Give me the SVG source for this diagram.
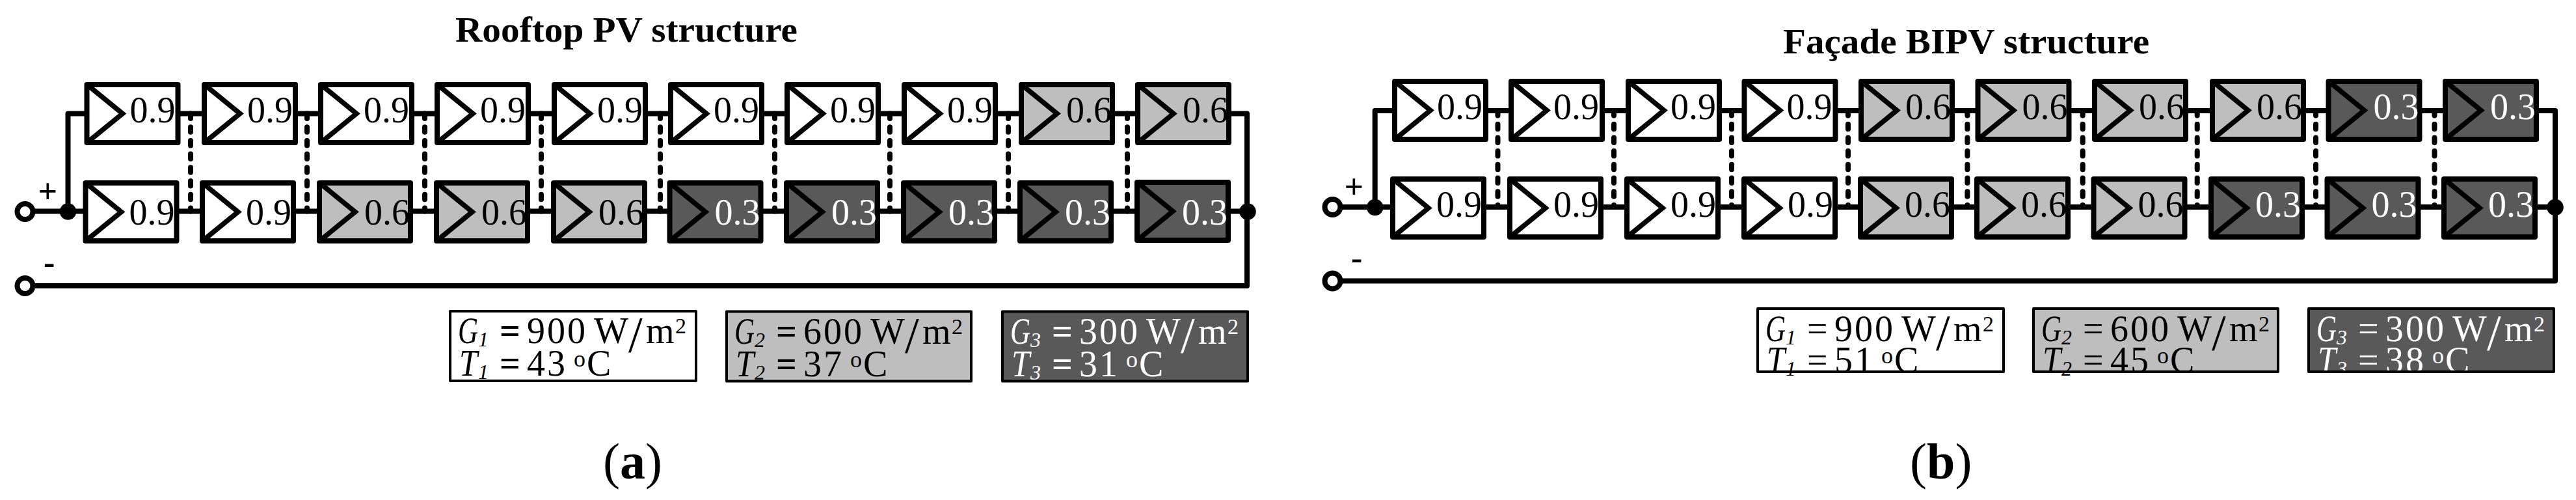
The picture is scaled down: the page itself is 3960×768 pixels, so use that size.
<svg xmlns="http://www.w3.org/2000/svg" xmlns:xlink="http://www.w3.org/1999/xlink" width="3960" height="768" viewBox="0 0 3960 768">
<style>
text{font-family:"Liberation Serif","Times New Roman",serif;font-size:56px;fill:#000}
.w{fill:#fff}.l{fill:#bebebe}.d{fill:#595959}
.bx{stroke:#000;stroke-width:8;stroke-linejoin:round}
.tri{fill:none;stroke:#000;stroke-width:7.5;stroke-linejoin:miter}
.wire{fill:none;stroke:#000;stroke-width:8;stroke-linejoin:round}
.dash{fill:none;stroke:#000;stroke-width:8;stroke-linecap:round;stroke-dasharray:7.5 13.2}
.dot{fill:#000}
.term{fill:#fff;stroke:#000;stroke-width:8}
text.wt,.wt tspan{fill:#fff}
.title{font-weight:bold;font-size:54px}
.cap{font-size:78px}
.pm{font-size:52px;font-weight:bold}
.i{font-style:italic}
.s{font-style:italic;font-size:32px}
.n{letter-spacing:3px}
.sl{font-size:78px}
.sp{font-size:34px}
.o{font-size:36px}
.e{font-weight:bold}
.lgs{fill:none;stroke:#000;stroke-width:4;stroke-linejoin:round}
</style>
<defs>
<path id="tri" class="tri" d="M8 7L59 48.5L8 90"/>
</defs>

<g id="connectors">
<path class="wire" d="M104.5 324.5V174.5H1917V439H50"/>
<path class="wire" d="M50 324.5H1918"/>
<path class="dash" d="M293 174.5V324.5M472 174.5V324.5M653 174.5V324.5M832 174.5V324.5M1015 174.5V324.5M1191 174.5V324.5M1368 174.5V324.5M1550 174.5V324.5M1733 174.5V324.5"/>
<path class="wire" d="M2113.7 318V170H3928V431.5H2060"/>
<path class="wire" d="M2060 318H3928"/>
<path class="dash" d="M2302.5 170V318M2481 170V318M2662 170V318M2841 170V318M3024.4 170V318M3201.7 170V318M3377.7 170V318M3560 170V318M3742.5 170V318"/>
</g>

<g id="panel-a">
<text class="title" x="700" y="64" textLength="526" lengthAdjust="spacingAndGlyphs">Rooftop PV structure</text>
<g id="a-plus-terminal"><circle class="term" cx="38.5" cy="325" r="12"/><text class="pm" x="58.5" y="311">+</text></g>
<g id="a-minus-terminal"><circle class="term" cx="38.5" cy="439" r="12"/><text class="pm" x="67" y="420">-</text></g>
<circle id="a-left-junction" class="dot" cx="104.5" cy="325" r="12.8"/>
<circle id="a-right-junction" class="dot" cx="1918" cy="325" r="12.8"/>

<g id="a-t1" transform="translate(129.5,126)"><rect class="bx w" x="4" y="4" width="140" height="89"/><use href="#tri"/><text x="70" y="62">0.9</text></g>
<g id="a-t2" transform="translate(310,126)"><rect class="bx w" x="4" y="4" width="140" height="89"/><use href="#tri"/><text x="70" y="62">0.9</text></g>
<g id="a-t3" transform="translate(489,126)"><rect class="bx w" x="4" y="4" width="140" height="89"/><use href="#tri"/><text x="70" y="62">0.9</text></g>
<g id="a-t4" transform="translate(668,126)"><rect class="bx w" x="4" y="4" width="140" height="89"/><use href="#tri"/><text x="70" y="62">0.9</text></g>
<g id="a-t5" transform="translate(848,126)"><rect class="bx w" x="4" y="4" width="140" height="89"/><use href="#tri"/><text x="70" y="62">0.9</text></g>
<g id="a-t6" transform="translate(1027,126)"><rect class="bx w" x="4" y="4" width="140" height="89"/><use href="#tri"/><text x="70" y="62">0.9</text></g>
<g id="a-t7" transform="translate(1206,126)"><rect class="bx w" x="4" y="4" width="140" height="89"/><use href="#tri"/><text x="70" y="62">0.9</text></g>
<g id="a-t8" transform="translate(1386,126)"><rect class="bx w" x="4" y="4" width="140" height="89"/><use href="#tri"/><text x="70" y="62">0.9</text></g>
<g id="a-t9" transform="translate(1566,126)"><rect class="bx l" x="4" y="4" width="140" height="89"/><use href="#tri"/><text x="73" y="62">0.6</text></g>
<g id="a-t10" transform="translate(1745,126)"><rect class="bx l" x="4" y="4" width="140" height="89"/><use href="#tri"/><text x="73" y="62">0.6</text></g>

<g id="a-b1" transform="translate(127.5,277)"><rect class="bx w" x="4" y="4" width="140" height="89"/><use href="#tri"/><text x="71" y="68">0.9</text></g>
<g id="a-b2" transform="translate(307,277)"><rect class="bx w" x="4" y="4" width="140" height="89"/><use href="#tri"/><text x="71" y="68">0.9</text></g>
<g id="a-b3" transform="translate(487,277)"><rect class="bx l" x="4" y="4" width="140" height="89"/><use href="#tri"/><text x="73" y="68">0.6</text></g>
<g id="a-b4" transform="translate(667,277)"><rect class="bx l" x="4" y="4" width="140" height="89"/><use href="#tri"/><text x="73" y="68">0.6</text></g>
<g id="a-b5" transform="translate(847,277)"><rect class="bx l" x="4" y="4" width="140" height="89"/><use href="#tri"/><text x="73" y="68">0.6</text></g>
<g id="a-b6" transform="translate(1025.5,277)"><rect class="bx d" x="4" y="4" width="140" height="89"/><use href="#tri"/><text class="wt" x="73" y="68">0.3</text></g>
<g id="a-b7" transform="translate(1205,277)"><rect class="bx d" x="4" y="4" width="140" height="89"/><use href="#tri"/><text class="wt" x="73" y="68">0.3</text></g>
<g id="a-b8" transform="translate(1385,277)"><rect class="bx d" x="4" y="4" width="140" height="89"/><use href="#tri"/><text class="wt" x="73" y="68">0.3</text></g>
<g id="a-b9" transform="translate(1564,277)"><rect class="bx d" x="4" y="4" width="140" height="89"/><use href="#tri"/><text class="wt" x="73" y="68">0.3</text></g>
<g id="a-b10" transform="translate(1744,276)"><rect class="bx d" x="4" y="4" width="140" height="89"/><use href="#tri"/><text class="wt" x="73" y="69">0.3</text></g>

<g id="a-legend-1" transform="translate(690,476)"><rect class="w" x="2" y="2" width="378" height="107"/>
<text y="51"><tspan class="i" x="14" textLength="31" lengthAdjust="spacingAndGlyphs">G</tspan><tspan class="s" x="45" dy="5">1</tspan> <tspan class="e" x="78" dy="-5">=</tspan> <tspan class="n" x="120">900</tspan> <tspan x="223">W</tspan><tspan class="sl" x="276" dy="13">/</tspan><tspan x="303" dy="-13">m</tspan><tspan class="sp" x="348" dy="-15">2</tspan></text>
<text y="101"><tspan class="i" x="16" textLength="28" lengthAdjust="spacingAndGlyphs">T</tspan><tspan class="s" x="45" dy="5">1</tspan> <tspan class="e" x="78" dy="-5">=</tspan> <tspan class="n" x="120">43</tspan> <tspan class="o" x="192" dy="-14">o</tspan><tspan x="212" dy="14">C</tspan></text>
<rect class="lgs" x="2" y="2" width="378" height="107"/></g>
<g id="a-legend-2" transform="translate(1115,476.5)"><rect class="l" x="2" y="2" width="376" height="107"/>
<text y="51"><tspan class="i" x="14" textLength="31" lengthAdjust="spacingAndGlyphs">G</tspan><tspan class="s" x="45" dy="5">2</tspan> <tspan class="e" x="78" dy="-5">=</tspan> <tspan class="n" x="120">600</tspan> <tspan x="223">W</tspan><tspan class="sl" x="276" dy="13">/</tspan><tspan x="303" dy="-13">m</tspan><tspan class="sp" x="348" dy="-15">2</tspan></text>
<text y="101"><tspan class="i" x="16" textLength="28" lengthAdjust="spacingAndGlyphs">T</tspan><tspan class="s" x="45" dy="5">2</tspan> <tspan class="e" x="78" dy="-5">=</tspan> <tspan class="n" x="120">37</tspan> <tspan class="o" x="192" dy="-14">o</tspan><tspan x="212" dy="14">C</tspan></text>
<rect class="lgs" x="2" y="2" width="376" height="107"/></g>
<g id="a-legend-3" transform="translate(1539,476.5)"><rect class="d" x="2" y="2" width="377" height="107"/>
<text class="wt" y="51"><tspan class="i" x="14" textLength="31" lengthAdjust="spacingAndGlyphs">G</tspan><tspan class="s" x="45" dy="5">3</tspan> <tspan class="e" x="78" dy="-5">=</tspan> <tspan class="n" x="120">300</tspan> <tspan x="223">W</tspan><tspan class="sl" x="276" dy="13">/</tspan><tspan x="303" dy="-13">m</tspan><tspan class="sp" x="348" dy="-15">2</tspan></text>
<text class="wt" y="101"><tspan class="i" x="16" textLength="28" lengthAdjust="spacingAndGlyphs">T</tspan><tspan class="s" x="45" dy="5">3</tspan> <tspan class="e" x="78" dy="-5">=</tspan> <tspan class="n" x="120">31</tspan> <tspan class="o" x="192" dy="-14">o</tspan><tspan x="212" dy="14">C</tspan></text>
<rect class="lgs" x="2" y="2" width="377" height="107"/></g>

<text id="caption-a" class="cap" x="927" y="735">(<tspan font-weight="bold">a</tspan>)</text>
</g>

<g id="panel-b">
<text class="title" x="2741" y="82" textLength="563" lengthAdjust="spacingAndGlyphs">Façade BIPV structure</text>
<g id="b-plus-terminal"><circle class="term" cx="2048.5" cy="318" r="12"/><text class="pm" x="2066.5" y="304">+</text></g>
<g id="b-minus-terminal"><circle class="term" cx="2048.5" cy="431.5" r="12"/><text class="pm" x="2077" y="413">-</text></g>
<circle id="b-left-junction" class="dot" cx="2113.7" cy="318.5" r="12.8"/>
<circle id="b-right-junction" class="dot" cx="3928" cy="318.5" r="12.8"/>

<g id="b-t1" transform="translate(2140,121)"><rect class="bx w" x="4" y="4" width="140" height="89"/><use href="#tri"/><text x="69" y="62">0.9</text></g>
<g id="b-t2" transform="translate(2319,121)"><rect class="bx w" x="4" y="4" width="140" height="89"/><use href="#tri"/><text x="69" y="62">0.9</text></g>
<g id="b-t3" transform="translate(2499,121)"><rect class="bx w" x="4" y="4" width="140" height="89"/><use href="#tri"/><text x="69" y="62">0.9</text></g>
<g id="b-t4" transform="translate(2677.5,121)"><rect class="bx w" x="4" y="4" width="140" height="89"/><use href="#tri"/><text x="69" y="62">0.9</text></g>
<g id="b-t5" transform="translate(2857,121)"><rect class="bx l" x="4" y="4" width="140" height="89"/><use href="#tri"/><text x="72" y="62">0.6</text></g>
<g id="b-t6" transform="translate(3036.5,121)"><rect class="bx l" x="4" y="4" width="140" height="89"/><use href="#tri"/><text x="72" y="62">0.6</text></g>
<g id="b-t7" transform="translate(3216,121)"><rect class="bx l" x="4" y="4" width="140" height="89"/><use href="#tri"/><text x="72" y="62">0.6</text></g>
<g id="b-t8" transform="translate(3397,121)"><rect class="bx l" x="4" y="4" width="140" height="89"/><use href="#tri"/><text x="72" y="62">0.6</text></g>
<g id="b-t9" transform="translate(3575.5,121)"><rect class="bx d" x="4" y="4" width="140" height="89"/><use href="#tri"/><text class="wt" x="73" y="62">0.3</text></g>
<g id="b-t10" transform="translate(3755,121)"><rect class="bx d" x="4" y="4" width="140" height="89"/><use href="#tri"/><text class="wt" x="73" y="62">0.3</text></g>

<g id="b-b1" transform="translate(2137,271)"><rect class="bx w" x="4" y="4" width="140" height="89"/><use href="#tri"/><text x="71" y="62">0.9</text></g>
<g id="b-b2" transform="translate(2317,271)"><rect class="bx w" x="4" y="4" width="140" height="89"/><use href="#tri"/><text x="71" y="62">0.9</text></g>
<g id="b-b3" transform="translate(2497,271)"><rect class="bx w" x="4" y="4" width="140" height="89"/><use href="#tri"/><text x="71" y="62">0.9</text></g>
<g id="b-b4" transform="translate(2677,271)"><rect class="bx w" x="4" y="4" width="140" height="89"/><use href="#tri"/><text x="71" y="62">0.9</text></g>
<g id="b-b5" transform="translate(2856,271)"><rect class="bx l" x="4" y="4" width="140" height="89"/><use href="#tri"/><text x="72" y="62">0.6</text></g>
<g id="b-b6" transform="translate(3035,271)"><rect class="bx l" x="4" y="4" width="140" height="89"/><use href="#tri"/><text x="72" y="62">0.6</text></g>
<g id="b-b7" transform="translate(3214.5,271)"><rect class="bx l" x="4" y="4" width="140" height="89"/><use href="#tri"/><text x="72" y="62">0.6</text></g>
<g id="b-b8" transform="translate(3395,271)"><rect class="bx d" x="4" y="4" width="140" height="89"/><use href="#tri"/><text class="wt" x="72" y="62">0.3</text></g>
<g id="b-b9" transform="translate(3573.5,271)"><rect class="bx d" x="4" y="4" width="140" height="89"/><use href="#tri"/><text class="wt" x="72" y="62">0.3</text></g>
<g id="b-b10" transform="translate(3753,271)"><rect class="bx d" x="4" y="4" width="140" height="89"/><use href="#tri"/><text class="wt" x="72" y="62">0.3</text></g>

<g id="b-legend-1" transform="translate(2700,472)"><rect class="w" x="2" y="2" width="378" height="97"/>
<text y="52"><tspan class="i" x="14" textLength="31" lengthAdjust="spacingAndGlyphs">G</tspan><tspan class="s" x="45" dy="5">1</tspan> <tspan x="78" dy="-5">=</tspan> <tspan class="n" x="120">900</tspan> <tspan x="223">W</tspan><tspan class="sl" x="276" dy="13">/</tspan><tspan x="303" dy="-13">m</tspan><tspan class="sp" x="348" dy="-15">2</tspan></text>
<text y="100"><tspan class="i" x="16" textLength="28" lengthAdjust="spacingAndGlyphs">T</tspan><tspan class="s" x="45" dy="5">1</tspan> <tspan x="78" dy="-5">=</tspan> <tspan class="n" x="120">51</tspan> <tspan class="o" x="192" dy="-14">o</tspan><tspan x="212" dy="14">C</tspan></text>
<rect class="lgs" x="2" y="2" width="378" height="97"/></g>
<g id="b-legend-2" transform="translate(3124,472)"><rect class="l" x="2" y="2" width="376" height="97"/>
<text y="52"><tspan class="i" x="14" textLength="31" lengthAdjust="spacingAndGlyphs">G</tspan><tspan class="s" x="45" dy="5">2</tspan> <tspan x="78" dy="-5">=</tspan> <tspan class="n" x="120">600</tspan> <tspan x="223">W</tspan><tspan class="sl" x="276" dy="13">/</tspan><tspan x="303" dy="-13">m</tspan><tspan class="sp" x="348" dy="-15">2</tspan></text>
<text y="100"><tspan class="i" x="16" textLength="28" lengthAdjust="spacingAndGlyphs">T</tspan><tspan class="s" x="45" dy="5">2</tspan> <tspan x="78" dy="-5">=</tspan> <tspan class="n" x="120">45</tspan> <tspan class="o" x="192" dy="-14">o</tspan><tspan x="212" dy="14">C</tspan></text>
<rect class="lgs" x="2" y="2" width="376" height="97"/></g>
<g id="b-legend-3" transform="translate(3547,472)"><rect class="d" x="2" y="2" width="377" height="97"/>
<text class="wt" y="52"><tspan class="i" x="14" textLength="31" lengthAdjust="spacingAndGlyphs">G</tspan><tspan class="s" x="45" dy="5">3</tspan> <tspan x="78" dy="-5">=</tspan> <tspan class="n" x="120">300</tspan> <tspan x="223">W</tspan><tspan class="sl" x="276" dy="13">/</tspan><tspan x="303" dy="-13">m</tspan><tspan class="sp" x="348" dy="-15">2</tspan></text>
<text class="wt" y="100"><tspan class="i" x="16" textLength="28" lengthAdjust="spacingAndGlyphs">T</tspan><tspan class="s" x="45" dy="5">3</tspan> <tspan x="78" dy="-5">=</tspan> <tspan class="n" x="120">38</tspan> <tspan class="o" x="192" dy="-14">o</tspan><tspan x="212" dy="14">C</tspan></text>
<rect class="lgs" x="2" y="2" width="377" height="97"/></g>

<text id="caption-b" class="cap" x="2936" y="735">(<tspan font-weight="bold">b</tspan>)</text>
</g>
</svg>
